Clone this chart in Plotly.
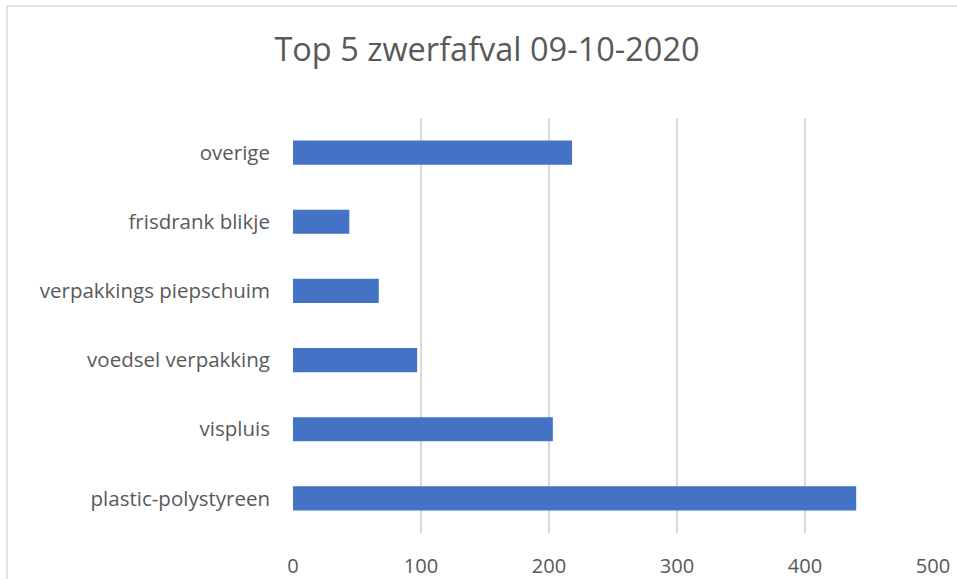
import plotly.graph_objects as go

categories = ["plastic-polystyreen", "vispluis", "voedsel verpakking",
              "verpakkings piepschuim", "frisdrank blikje", "overige"]
values = [440, 203, 97, 67, 44, 218]
tick_vals = [0, 100, 200, 300, 400, 500]

W, H = 957, 579
L, R, T, B = 293, 24, 118, 46
pw, ph = W - L - R, H - T - B

fig = go.Figure(go.Bar(
    x=values, y=categories, orientation="h",
    marker=dict(color="#4472C4", line=dict(width=0)),
))

def px_x(p):
    return (p - L) / pw

def px_y(p):
    return (H - B - p) / ph

border = "#d9d9d9"
fig.update_layout(
    width=W, height=H,
    margin=dict(l=L, r=R, t=T, b=B, autoexpand=False),
    paper_bgcolor="white", plot_bgcolor="white",
    bargap=0.65,
    showlegend=False,
    font=dict(family="Open Sans, sans-serif", color="#595959"),
    title=dict(text="Top 5 zwerfafval 09-10-2020", x=px_x(487), xref="paper",
               xanchor="center", y=1 - 50 / H, yanchor="middle",
               font=dict(size=32.5, color="#595959")),
    xaxis=dict(range=[0, 500], tickvals=tick_vals, showgrid=True,
               gridcolor=border, gridwidth=1.5, zeroline=False,
               showline=False, ticks="", tickfont=dict(size=20),
               ticklabelstandoff=19, automargin=False, fixedrange=True),
    yaxis=dict(categoryorder="array", categoryarray=categories,
               showgrid=False, zeroline=False, showline=False, ticks="",
               tickfont=dict(size=20.5), ticklabelstandoff=22,
               automargin=False),
    shapes=[
        dict(type="line", xref="paper", yref="paper",
             x0=px_x(7), x1=px_x(W + 10), y0=px_y(6), y1=px_y(6),
             line=dict(color=border, width=1.5)),
        dict(type="line", xref="paper", yref="paper",
             x0=px_x(7), x1=px_x(7), y0=px_y(6), y1=px_y(H + 10),
             line=dict(color=border, width=1.5)),
    ],
)

fig.write_html("out.html")
